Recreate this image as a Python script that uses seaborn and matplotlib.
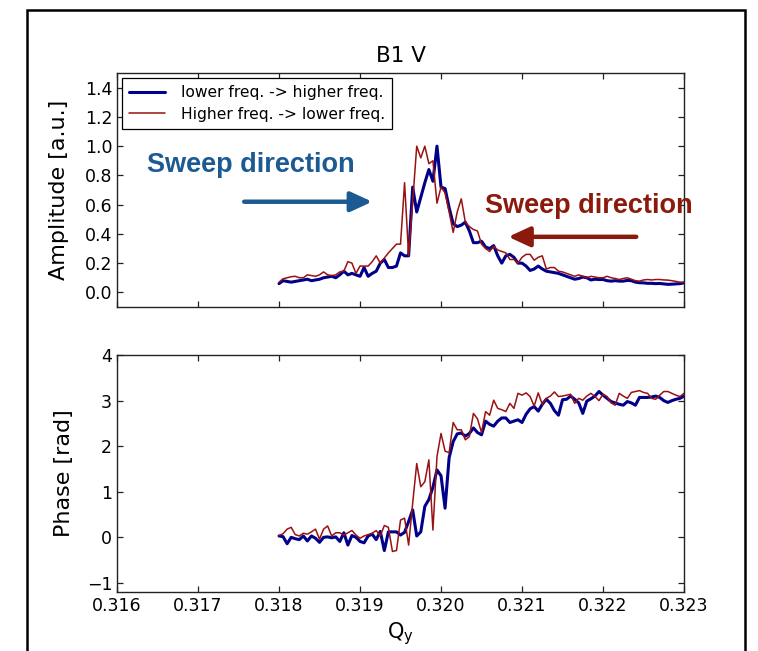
import numpy as np
import pandas as pd
import matplotlib
matplotlib.use("Agg")
import matplotlib.pyplot as plt
import seaborn as sns
from matplotlib.patches import Rectangle
from matplotlib.lines import Line2D

# ---------------- data ----------------
q_start, q_stop, n_pts = 0.318, 0.323, 101
qy = np.linspace(q_start, q_stop, n_pts)

amp_up = [0.06, 0.08, 0.075, 0.07, 0.075, 0.08, 0.085, 0.09, 0.08, 0.085,
          0.09, 0.10, 0.105, 0.11, 0.10, 0.12, 0.145, 0.12, 0.13, 0.12,
          0.11, 0.17, 0.11, 0.13, 0.145, 0.20, 0.225, 0.17, 0.17, 0.18,
          0.27, 0.25, 0.25, 0.72, 0.55, 0.65, 0.75, 0.84, 0.76, 1.00,
          0.72, 0.71, 0.58, 0.47, 0.45, 0.46, 0.48, 0.42, 0.34, 0.34,
          0.35, 0.31, 0.30, 0.32, 0.25, 0.20, 0.25, 0.26, 0.24, 0.20,
          0.20, 0.18, 0.15, 0.16, 0.18, 0.16, 0.145, 0.14, 0.135, 0.13,
          0.12, 0.11, 0.10, 0.09, 0.095, 0.105, 0.10, 0.085, 0.09, 0.088,
          0.088, 0.08, 0.077, 0.08, 0.077, 0.077, 0.082, 0.08, 0.07, 0.066,
          0.065, 0.062, 0.062, 0.06, 0.061, 0.058, 0.055, 0.056, 0.058, 0.06,
          0.065]

amp_down = [0.07, 0.093, 0.10, 0.107, 0.11, 0.10, 0.10, 0.12, 0.115, 0.11,
            0.12, 0.14, 0.12, 0.115, 0.12, 0.14, 0.145, 0.21, 0.20, 0.13,
            0.18, 0.18, 0.18, 0.21, 0.25, 0.20, 0.235, 0.27, 0.30, 0.33,
            0.33, 0.75, 0.25, 0.62, 1.00, 0.92, 1.00, 0.88, 0.90, 0.61,
            0.72, 0.68, 0.55, 0.41, 0.55, 0.64, 0.48, 0.45, 0.43, 0.42,
            0.33, 0.30, 0.28, 0.315, 0.29, 0.28, 0.27, 0.225, 0.225, 0.20,
            0.24, 0.26, 0.26, 0.22, 0.24, 0.25, 0.16, 0.17, 0.17, 0.145,
            0.14, 0.13, 0.12, 0.11, 0.12, 0.11, 0.10, 0.11, 0.105, 0.10,
            0.10, 0.11, 0.10, 0.095, 0.088, 0.095, 0.10, 0.09, 0.08, 0.077,
            0.085, 0.088, 0.085, 0.088, 0.088, 0.085, 0.084, 0.08, 0.075, 0.07,
            0.068]

phase_up = [0.03, 0.015, -0.14, 0.0, -0.03, -0.05, 0.03, -0.08, 0.03, -0.02,
            -0.11, 0.0, 0.01, -0.01, 0.01, -0.09, 0.10, -0.17, 0.04, 0.0,
            -0.09, -0.12, 0.03, 0.07, -0.05, 0.13, -0.29, 0.12, 0.12, 0.12,
            0.05, 0.11, 0.35, 0.60, 0.03, 0.12, 0.68, 0.83, 1.10, 1.48,
            1.35, 0.64, 1.75, 2.10, 2.27, 2.29, 2.22, 2.28, 2.40, 2.30,
            2.25, 2.55, 2.48, 2.44, 2.55, 2.62, 2.62, 2.52, 2.55, 2.58,
            2.52, 2.70, 2.82, 2.87, 2.77, 2.92, 3.03, 2.94, 2.78, 2.68,
            3.02, 3.03, 3.10, 3.03, 2.95, 2.72, 2.99, 3.04, 3.10, 3.20,
            3.12, 3.05, 2.98, 2.95, 2.92, 2.90, 2.98, 2.95, 2.90, 3.07,
            3.07, 3.07, 3.08, 3.10, 3.07, 3.00, 2.96, 3.00, 3.03, 3.05,
            3.10]

phase_down = [0.04, 0.08, 0.18, 0.22, 0.06, 0.03, 0.09, 0.07, 0.12, 0.18,
              -0.04, 0.18, 0.25, 0.03, 0.10, 0.10, 0.05, 0.10, 0.15, 0.05,
              -0.02, 0.03, 0.06, 0.09, 0.15, 0.03, 0.26, 0.22, -0.31, -0.29,
              0.38, 0.42, -0.17, 0.75, 1.62, 1.11, 1.22, 1.70, 0.16, 1.77,
              2.28, 1.89, 1.86, 2.52, 2.36, 2.36, 2.14, 2.21, 2.72, 2.60,
              2.30, 2.76, 2.68, 3.01, 2.83, 2.80, 2.76, 2.94, 2.83, 3.16,
              3.12, 3.17, 3.09, 2.88, 3.17, 2.92, 3.05, 3.10, 3.19, 3.09,
              3.10, 3.12, 3.14, 2.94, 3.05, 3.01, 3.10, 3.16, 3.09, 3.00,
              3.14, 3.09, 2.95, 2.90, 3.16, 3.10, 3.05, 3.18, 3.20, 3.22,
              3.18, 3.16, 3.05, 3.03, 3.12, 3.20, 3.20, 3.16, 3.12, 3.09,
              3.16]

label_up = "lower freq. -> higher freq."
label_down = "Higher freq. -> lower freq."
x_ticks = [0.316, 0.317, 0.318, 0.319, 0.320, 0.321, 0.322, 0.323]
amp_ticks = [0.0, 0.2, 0.4, 0.6, 0.8, 1.0, 1.2, 1.4]
phase_ticks = [-1, 0, 1, 2, 3, 4]

df = pd.DataFrame({"Qy": np.concatenate([qy, qy]),
                   "amp": amp_up + amp_down,
                   "phase": phase_up + phase_down,
                   "sweep": [label_up] * n_pts + [label_down] * n_pts})

# ---------------- style ----------------
sns.set_style("ticks", {"xtick.direction": "in", "ytick.direction": "in",
                        "axes.edgecolor": "#222222", "text.color": "black",
                        "axes.labelcolor": "black", "xtick.color": "#222222",
                        "ytick.color": "#222222"})
plt.rcParams["font.family"] = ["DejaVu Sans"]
plt.rcParams["xtick.top"] = True
plt.rcParams["ytick.right"] = True
plt.rcParams["xtick.major.size"] = 4.5
plt.rcParams["ytick.major.size"] = 4.5

BLUE = "#00008B"
RED = "#991111"

fig = plt.figure(figsize=(7.58, 6.51), dpi=100)
ax1 = fig.add_axes([0.1544, 0.5284, 0.748, 0.3594])
ax2 = fig.add_axes([0.1544, 0.0906, 0.748, 0.364])

palette = {label_up: BLUE, label_down: RED}
sizes = {label_up: 2.2, label_down: 1.1}

for ax, col in [(ax1, "amp"), (ax2, "phase")]:
    sns.lineplot(data=df, x="Qy", y=col, hue="sweep", size="sweep",
                 palette=palette, sizes=sizes, ax=ax, legend=False,
                 estimator=None, sort=False)
    ax.set_xlim(0.316, 0.323)
    ax.set_xticks(x_ticks)
    for s in ax.spines.values():
        s.set_linewidth(1.0)
    ax.tick_params(labelsize=12.5, width=0.9, colors="#222222", labelcolor="black")

ax1.set_ylim(-0.1, 1.5)
ax1.set_yticks(amp_ticks)
ax1.set_yticklabels([f"{v:.1f}" for v in amp_ticks])
ax1.set_xticklabels([])
ax1.set_xlabel("")
ax1.set_ylabel("Amplitude [a.u.]", fontsize=16, labelpad=11, color="black")
ax1.set_title("B1 V", fontsize=15.5, pad=8, color="black")

ax2.set_ylim(-1.2, 4)
ax2.set_yticks(phase_ticks)
ax2.set_xticklabels([f"{v:.3f}" for v in x_ticks])
ax2.set_ylabel("Phase [rad]", fontsize=16, labelpad=9, color="black")
ax2.set_xlabel("Q$_\\mathregular{y}$", fontsize=15, color="black")

# legend
handles = [Line2D([], [], color=BLUE, lw=2.2), Line2D([], [], color=RED, lw=1.1)]
leg = ax1.legend(handles, [label_up, label_down], loc="upper left", fontsize=11.2,
                 fancybox=False, framealpha=1, edgecolor="black",
                 borderaxespad=0.35, handlelength=2.3, borderpad=0.45,
                 labelspacing=0.4, handletextpad=1.0)
leg.get_frame().set_linewidth(0.9)
for t in leg.get_texts():
    t.set_color("black")

# annotations
TXT_BLUE = "#1C5A92"
TXT_RED = "#8B1A0C"
ax1.text(0.31765, 0.87, "Sweep direction", color=TXT_BLUE, fontsize=19.5,
         fontweight="bold", family="Liberation Sans", ha="center", va="center")
ax1.annotate("", xy=(0.31915, 0.62), xytext=(0.31757, 0.62),
             arrowprops=dict(arrowstyle="-|>,head_length=1.3,head_width=0.6",
                             color=TXT_BLUE, lw=3.2, shrinkA=0, shrinkB=0))
ax1.text(0.32183, 0.59, "Sweep direction", color=TXT_RED, fontsize=19.5,
         fontweight="bold", family="Liberation Sans", ha="center", va="center",
         clip_on=False)
ax1.annotate("", xy=(0.32083, 0.38), xytext=(0.32241, 0.38),
             arrowprops=dict(arrowstyle="-|>,head_length=1.3,head_width=0.6",
                             color=TXT_RED, lw=3.2, shrinkA=0, shrinkB=0))

# outer frame
fig.patches.append(Rectangle((0.0356, -0.02), 0.947, 1.0046, transform=fig.transFigure,
                             fill=False, edgecolor="black", linewidth=1.8, zorder=10))

fig.savefig("out.png", dpi=100)
